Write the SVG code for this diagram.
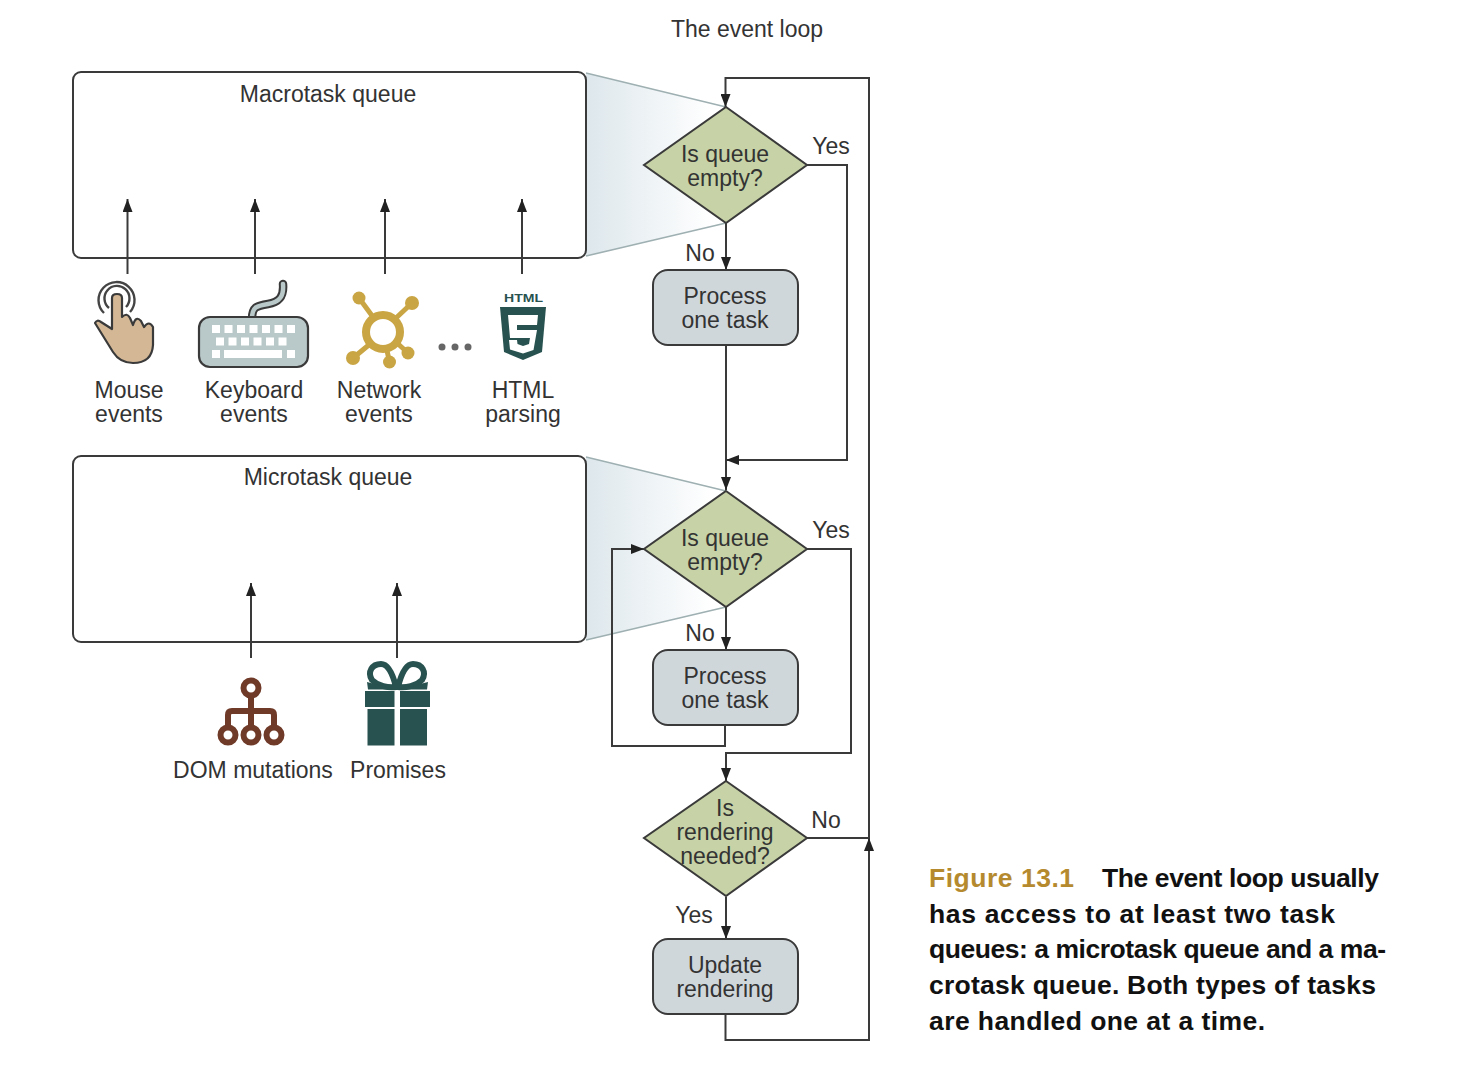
<svg xmlns="http://www.w3.org/2000/svg" width="1464" height="1080" viewBox="0 0 1464 1080">
<style>
text{font-family:"Liberation Sans",Arial,sans-serif;font-size:23px;fill:#333;text-anchor:middle}
.cap{font-size:26.500px;font-weight:700;fill:#111;text-anchor:start}
.q{fill:none;stroke:#3a3a3a;stroke-width:2}
.d{fill:#c7d3a6;stroke:#3a3a3a;stroke-width:2}
.p{fill:#d0d7db;stroke:#3a3a3a;stroke-width:2}
.c{fill:none;stroke:#3a3a3a;stroke-width:2}
.f{stroke:#9fb0b2;stroke-width:1.600;fill:none}
.t{fill:#28524f}
.n{fill:#c9a544}
.b{fill:none;stroke:#6f3a28;stroke-width:6}
</style>
<defs>
<linearGradient id="g" x1="0" x2="1" y1="0" y2="0"><stop offset="0" stop-color="#dde7ec"/><stop offset="0.900" stop-color="#fff"/></linearGradient>
<marker id="a" markerUnits="userSpaceOnUse" markerWidth="14" markerHeight="10" refX="13" refY="5" orient="auto"><path d="M0 0L13 5L0 10Z" fill="#222"/></marker>
</defs>
<rect width="1464" height="1080" fill="#fff"/>
<text id="title" x="747" y="37">The event loop</text>
<g id="funnels">
<path d="M586 73L726 107L726 223L586 256Z" fill="url(#g)"/>
<path class="f" d="M586 73L726 107M586 256L726 223"/>
<path d="M586 457L726 491L726 607L586 640Z" fill="url(#g)"/>
<path class="f" d="M586 457L726 491M586 640L726 607"/>
</g>
<g id="macrotask-queue"><rect class="q" x="73" y="72" width="513" height="186" rx="8"/><text x="328" y="102">Macrotask queue</text></g>
<g id="microtask-queue"><rect class="q" x="73" y="456" width="513" height="186" rx="8"/><text x="328" y="485">Microtask queue</text></g>
<g id="connectors">
<path class="c" marker-end="url(#a)" d="M127.500 274V199"/>
<path class="c" marker-end="url(#a)" d="M255 274V199"/>
<path class="c" marker-end="url(#a)" d="M385 274V199"/>
<path class="c" marker-end="url(#a)" d="M522 274V199"/>
<path class="c" marker-end="url(#a)" d="M251 658V583"/>
<path class="c" marker-end="url(#a)" d="M397 658V583"/>
<path class="c" marker-end="url(#a)" d="M869 838V78H725.500V107"/>
<path class="c" marker-end="url(#a)" d="M726 223V270"/>
<path class="c" marker-end="url(#a)" d="M726 345V490"/>
<path class="c" marker-end="url(#a)" d="M807 165H847V460H726"/>
<path class="c" marker-end="url(#a)" d="M726 607V650"/>
<path class="c" marker-end="url(#a)" d="M725 725V746H612V549H644"/>
<path class="c" marker-end="url(#a)" d="M807 549H851V753H726V781"/>
<path class="c" marker-end="url(#a)" d="M726 897V939"/>
<path class="c" d="M807 838H869"/>
<path class="c" marker-end="url(#a)" d="M725.500 1014V1040H869V838"/>
</g>
<g id="d1"><path class="d" d="M726 107L807 165L726 223L644 165Z"/><text><tspan x="725" y="162">Is queue</tspan><tspan x="725" y="186">empty?</tspan></text></g>
<text id="yes1" x="831" y="154">Yes</text><text id="no1" x="700" y="261">No</text>
<g id="p1"><rect class="p" x="653" y="270" width="145" height="75" rx="15"/><text><tspan x="725" y="304">Process</tspan><tspan x="725" y="328">one task</tspan></text></g>
<g id="d2"><path class="d" d="M726 491L807 549L726 607L644 549Z"/><text><tspan x="725" y="546">Is queue</tspan><tspan x="725" y="570">empty?</tspan></text></g>
<text id="yes2" x="831" y="538">Yes</text><text id="no2" x="700" y="641">No</text>
<g id="p2"><rect class="p" x="653" y="650" width="145" height="75" rx="15"/><text><tspan x="725" y="684">Process</tspan><tspan x="725" y="708">one task</tspan></text></g>
<g id="d3"><path class="d" d="M726 781L807 838L726 896L644 838Z"/><text><tspan x="725" y="816">Is</tspan><tspan x="725" y="840">rendering</tspan><tspan x="725" y="864">needed?</tspan></text></g>
<text id="no3" x="826" y="828">No</text><text id="yes3" x="694" y="923">Yes</text>
<g id="p3"><rect class="p" x="653" y="939" width="145" height="75" rx="15"/><text><tspan x="725" y="973">Update</tspan><tspan x="725" y="997">rendering</tspan></text></g>
<g id="mouse">
<path d="M95 323Q97 319 101 322L112 329V298Q112 294 117 294Q122 294 122 298V317Q127 312 130 318L133 325Q136 315 141 321L144 327Q149 320 153 327V345Q152 363 133 363Q120 363 113 352Z" fill="#d4b896" stroke="#3a3a3a" stroke-width="2.200" stroke-linejoin="round"/>
<path d="M104 313A18 18 0 1 1 130 312M109 308A12.500 12.500 0 1 1 126 307" fill="none" stroke="#444" stroke-width="2.400"/>
</g>
<text><tspan x="129" y="398">Mouse</tspan><tspan x="129" y="422">events</tspan></text>
<g id="keyboard">
<path d="M252 319C252 307 256 306 268 304C280 302 284 296 283 284" fill="none" stroke="#3a3a3a" stroke-width="8.500" stroke-linecap="round"/>
<path d="M252 319C252 307 256 306 268 304C280 302 284 296 283 284" fill="none" stroke="#b9c8c9" stroke-width="4.500" stroke-linecap="round"/>
<rect x="199" y="317" width="109" height="50" rx="11" fill="#b9c8c9" stroke="#3a3a3a" stroke-width="2.200"/>
<path d="M212 325h8v8h-8zM224.500 325h8v8h-8zM237 325h8v8h-8zM249.500 325h8v8h-8zM262 325h8v8h-8zM274.500 325h8v8h-8zM287 325h8v8h-8zM216 337.500h8v8h-8zM228.500 337.500h8v8h-8zM241 337.500h8v8h-8zM253.500 337.500h8v8h-8zM266 337.500h8v8h-8zM278.500 337.500h8v8h-8zM212 350h8v8h-8zM224 350h58v8h-58zM287 350h8v8h-8z" fill="#fff"/>
</g>
<text><tspan x="254" y="398">Keyboard</tspan><tspan x="254" y="422">events</tspan></text>
<g id="network">
<path d="M359 298L373 317M412 303L396 318M353 358L370 344M389.500 362L386 346M408 353L396 342" stroke="#c9a544" stroke-width="5" fill="none"/>
<circle cx="383" cy="332" r="17" fill="none" stroke="#c9a544" stroke-width="8"/>
<circle class="n" cx="359" cy="298" r="6.500"/><circle class="n" cx="412" cy="303" r="7"/><circle class="n" cx="353" cy="358" r="7"/><circle class="n" cx="389.500" cy="362" r="6.500"/><circle class="n" cx="408" cy="353" r="6.500"/>
</g>
<text><tspan x="379" y="398">Network</tspan><tspan x="379" y="422">events</tspan></text>
<g id="dots" fill="#666"><circle cx="442" cy="347" r="3.500"/><circle cx="455" cy="347" r="3.500"/><circle cx="468" cy="347" r="3.500"/></g>
<g id="html5">
<text x="523.500" y="302" textLength="39" lengthAdjust="spacingAndGlyphs" style="font-size:10.500px;font-weight:700;fill:#28524f">HTML</text>
<path class="t" d="M500 307H546L542 352L523 360L504 352Z"/>
<path d="M508 315H538L537 325H517V330H537L533.500 350L523 353.500L510 349.500L509 340H517L517.500 344L523 346L529 344L530 338H510Z" fill="#fff"/>
</g>
<text><tspan x="523" y="398">HTML</tspan><tspan x="523" y="422">parsing</tspan></text>
<g id="dom">
<path class="b" d="M251 696V727M228 727V715Q228 711 232 711H270Q274 711 274 715V727"/>
<circle class="b" cx="251" cy="688" r="7.500"/><circle class="b" cx="228" cy="735" r="7.500"/><circle class="b" cx="251" cy="735" r="7.500"/><circle class="b" cx="274" cy="735" r="7.500"/>
</g>
<text x="253" y="778">DOM mutations</text>
<g id="promises">
<path class="t" d="M365 691H394.500V707H365ZM400 691H430V707H400ZM367.500 709H394.500V745.500H367.500ZM400 709H427V745.500H400Z"/>
<path d="M396 687C393 675 388 664 381 664C372 664 367 672 372 680C378 686 388 688 396 687ZM398 687C401 675 406 664 413 664C422 664 427 672 422 680C416 686 406 688 398 687Z" fill="none" stroke="#28524f" stroke-width="6"/>
<path class="t" d="M367 682L396 689.500H368ZM428 682L398 689.500H427Z"/>
</g>
<text x="398" y="778">Promises</text>
<g id="caption">
<text class="cap" x="929" y="887" textLength="145" style="fill:#b58a2f">Figure 13.1</text>
<text class="cap" x="1102" y="887" textLength="277">The event loop usually</text>
<text class="cap" x="929" y="923" textLength="406">has access to at least two task</text>
<text class="cap" x="929" y="958" textLength="457">queues: a microtask queue and a ma-</text>
<text class="cap" x="929" y="994" textLength="447">crotask queue. Both types of tasks</text>
<text class="cap" x="929" y="1030" textLength="336">are handled one at a time.</text>
</g>
</svg>
